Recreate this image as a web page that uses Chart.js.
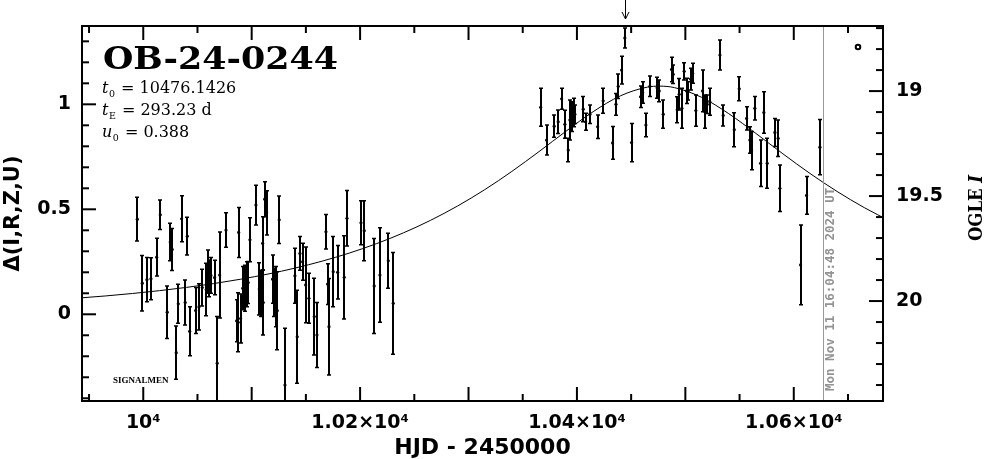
<!DOCTYPE html>
<html><head><meta charset="utf-8">
<script src="https://cdn.jsdelivr.net/npm/chart.js@4.4.1/dist/chart.umd.min.js"></script>
<style>html,body{margin:0;padding:0;background:#fff;}canvas{display:block;}</style>
</head><body>
<canvas id="c" width="986" height="459"></canvas>
<script>
// ---------- data ----------
const hjd = [9994.5,9999.1,10003.4,10007.1,10012.4,10015.7,10022.1,10024.9,10026.7,10030.4,10032.3,10035.4,10038.7,10040.6,10042.8,10048.3,10051.4,10054.4,10058.1,10059.4,10060.9,10062.4,10065.8,10068.2,10070.5,10076.3,10086.1,10087.6,10088.0,10089.8,10091.7,10093.8,10095.4,10096.8,10098.4,10103.9,10107.0,10108.3,10110.1,10110.7,10112.0,10113.8,10119.3,10120.8,10122.4,10123.6,10125.4,10130.7,10139.9,10142.0,10144.5,10147.0,10149.8,10152.8,10157.7,10160.2,10168.5,10170.0,10171.3,10175.2,10179.3,10185.4,10187.9,10200.8,10203.8,10213.0,10218.3,10226.0,10230.6,
10366.5,10372.0,10379.0,10382.7,10385.9,10388.9,10392.0,10393.5,10395.4,10396.9,10398.1,10405.8,10408.0,10412.0,10419.1,10424.2,10432.9,10436.0,10438.1,10441.2,10444.2,10450.4,10458.7,10460.6,10463.6,10467.3,10474.0,10475.9,10479.6,10487.3,10488.8,10492.5,10494.3,10496.8,10498.9,10501.2,10502.6,10504.8,10506.7,10509.7,10515.9,10518.0,10520.2,10522.6,10531.9,10534.9,10545.1,10549.7,10556.5,10559.5,10561.1,10564.1,10569.4,10572.4,10575.5,10582.6,10585.6,10587.2,10606.3,10611.8,10624.1];
const delta = [0.453,0.148,0.165,0.169,0.272,0.474,0.010,0.344,0.309,-0.183,0.050,0.455,0.056,0.372,-0.081,0.018,0.035,0.127,0.118,0.203,0.171,0.185,0.175,-0.233,0.187,0.401,-0.031,-0.038,0.390,-0.020,0.124,0.124,0.143,0.151,0.355,0.520,0.121,0.100,0.338,0.056,0.548,0.483,0.167,0.104,0.084,0.017,0.450,-0.337,0.183,-0.107,0.290,0.250,0.140,0.076,-0.011,-0.099,0.393,0.144,-0.059,0.203,0.200,0.176,0.457,0.436,0.398,0.135,0.187,0.255,0.052,
0.986,0.830,0.896,0.917,1.026,0.905,0.782,0.925,0.941,0.961,0.953,0.977,0.917,0.953,0.893,1.017,0.816,1.000,1.086,1.163,1.316,0.818,1.036,1.056,0.901,1.086,1.079,1.064,0.953,1.166,1.143,0.974,1.048,0.981,1.157,1.064,1.064,1.120,1.148,0.970,1.064,0.965,1.000,1.012,1.235,0.947,0.879,1.074,0.933,0.830,0.779,0.981,0.719,0.961,0.719,0.866,0.838,0.600,0.235,0.566,0.796];
const errs = [0.104,0.132,0.105,0.100,0.090,0.070,0.125,0.089,0.100,0.127,0.093,0.109,0.107,0.090,0.117,0.109,0.110,0.087,0.125,0.103,0.087,0.085,0.082,0.222,0.205,0.082,0.100,0.140,0.119,0.117,0.103,0.110,0.107,0.100,0.105,0.095,0.125,0.110,0.127,0.155,0.083,0.105,0.115,0.115,0.143,0.186,0.113,0.271,0.131,0.222,0.080,0.088,0.180,0.119,0.183,0.155,0.082,0.097,0.230,0.167,0.127,0.198,0.132,0.105,0.143,0.226,0.225,0.131,0.242,
0.090,0.071,0.053,0.056,0.050,0.067,0.056,0.095,0.071,0.068,0.044,0.060,0.040,0.044,0.056,0.060,0.078,0.052,0.058,0.066,0.048,0.091,0.051,0.051,0.056,0.049,0.050,0.052,0.067,0.058,0.044,0.062,0.075,0.095,0.041,0.060,0.044,0.052,0.048,0.074,0.099,0.079,0.044,0.064,0.071,0.050,0.081,0.057,0.055,0.063,0.091,0.056,0.111,0.099,0.119,0.067,0.087,0.111,0.190,0.090,0.132];
// model light curve (t0 = 10476.1426, tE = 293.23 d, u0 = 0.388)
const modelDays  = [9940,9965,9990,10015,10040,10065,10090,10115,10140,10165,10190,10215,10240,10265,10290,10315,10340,10365,10390,10415,10440,10465,10476.14,10490,10515,10540,10565,10590,10615,10640,10665,10690];
const modelDelta = [0.0772,0.0873,0.0990,0.1125,0.1281,0.1462,0.1672,0.1916,0.2200,0.2531,0.2915,0.3361,0.3879,0.4475,0.5160,0.5937,0.6805,0.7747,0.8722,0.9650,1.0401,1.0820,1.0867,1.0795,1.0333,0.9555,0.8617,0.7642,0.6706,0.5848,0.5081,0.4407];
// axis tick labels
const xTickValues = [10000,10200,10400,10600];
const xTickLabels = ['10\u2074','1.02\u00d710\u2074','1.04\u00d710\u2074','1.06\u00d710\u2074'];
const yLeftTickValues = [0,0.5,1];
const yLeftTickLabels = ['0','0.5','1'];
const yRightTickValues = [19,19.5,20];
const yRightTickLabels = ['19','19.5','20'];
// texts
const eventName = 'OB-24-0244';
const params = [['t','0',' = 10476.1426'],['t','E',' = 293.23 d'],['u','0',' = 0.388']];
const nowDay = 10627.1;
const nowLabel = 'Mon Nov 11 16:04:48 2024 UT';
const arrowDay = 10444.2;
const I_ZERO = 20.063;  // OGLE I = I_ZERO - Δ

// ---------- chart ----------
const X_MIN = 9943.5, X_MAX = 10682.3, Y_MIN = -0.413, Y_MAX = 1.373;
const points = hjd.map((d,i)=>({x:d, y:delta[i], e:errs[i]}));
const curve = modelDays.map((d,i)=>({x:d, y:modelDelta[i]}));
const near = (v,m)=>Math.abs(v/m-Math.round(v/m))<1e-6;
const labelFor = (vals,labs)=>(v)=>{ for(let i=0;i<vals.length;i++){ if(Math.abs(v-vals[i])<1e-6) return labs[i]; } return ''; };
const TICKFONT = {family:'"DejaVu Sans"', weight:'bold', size:19};

function fitText(ctx, txt, x, y, width){
  const w = ctx.measureText(txt).width;
  ctx.save(); ctx.translate(x,y); ctx.scale(width/w,1); ctx.fillText(txt,0,0); ctx.restore();
}

const decor = {
  id:'decor',
  afterDatasetsDraw(chart){
    const {ctx, chartArea:a} = chart; const xs=chart.scales.x, ys=chart.scales.y;
    ctx.save();
    ctx.beginPath(); ctx.rect(a.left,a.top,a.right-a.left,a.bottom-a.top); ctx.clip();
    ctx.strokeStyle='#000';
    points.forEach(p=>{
      const px=Math.round(xs.getPixelForValue(p.x));
      const y1=ys.getPixelForValue(p.y+p.e), y2=ys.getPixelForValue(p.y-p.e);
      ctx.lineWidth=2; ctx.beginPath(); ctx.moveTo(px,y1); ctx.lineTo(px,y2); ctx.stroke();
      ctx.lineWidth=1.5; ctx.beginPath(); ctx.moveTo(px-2,y1); ctx.lineTo(px+2,y1); ctx.moveTo(px-2,y2); ctx.lineTo(px+2,y2); ctx.stroke();
    });
    ctx.restore();
  },
  afterDraw(chart){
    const {ctx, chartArea:a} = chart; const xs=chart.scales.x, ys=chart.scales.y, y2=chart.scales.y2;
    ctx.save();
    // now line
    const xn=Math.round(xs.getPixelForValue(nowDay))+0.5;
    ctx.strokeStyle='#999'; ctx.lineWidth=1;
    ctx.beginPath(); ctx.moveTo(xn,a.top); ctx.lineTo(xn,a.bottom); ctx.stroke();
    ctx.save(); ctx.translate(xn+7,a.bottom-10); ctx.rotate(-Math.PI/2);
    ctx.font='bold 12.5px "DejaVu Sans Mono"'; ctx.fillStyle='#939393'; ctx.textAlign='left'; ctx.textBaseline='middle';
    ctx.fillText(nowLabel,0,0); ctx.restore();
    // frame
    ctx.strokeStyle='#000'; ctx.lineWidth=2;
    ctx.strokeRect(a.left,a.top,a.right-a.left,a.bottom-a.top);
    const seg=(x1,y1,x2,y2)=>{ctx.beginPath();ctx.moveTo(x1,y1);ctx.lineTo(x2,y2);ctx.stroke();};
    xs.ticks.forEach(t=>{ const px=xs.getPixelForValue(t.value); const L=near(t.value,100)?14:7; seg(px,a.bottom,px,a.bottom-L); seg(px,a.top,px,a.top+L); });
    ys.ticks.forEach(t=>{ const py=ys.getPixelForValue(t.value); const L=near(t.value,0.5)?14:7; seg(a.left,py,a.left+L,py); });
    y2.ticks.forEach(t=>{ const py=y2.getPixelForValue(t.value); const L=near(t.value,0.5)?14:7; seg(a.right,py,a.right-L,py); });
    // arrow
    const xa=Math.round(xs.getPixelForValue(arrowDay))+0.5;
    ctx.lineWidth=1;
    seg(xa,0,xa,a.top-7); ctx.beginPath(); ctx.moveTo(xa-3.5,a.top-14); ctx.lineTo(xa,a.top-7); ctx.lineTo(xa+3.5,a.top-14); ctx.stroke();
    // small circle symbol
    ctx.lineWidth=2; ctx.beginPath(); ctx.arc(858,47,2.3,0,Math.PI*2); ctx.stroke();
    // title & params
    ctx.fillStyle='#000'; ctx.textAlign='left'; ctx.textBaseline='alphabetic';
    ctx.font='bold 31px "DejaVu Serif"'; fitText(ctx,eventName,103,68.5,235);
    params.forEach((p,i)=>{
      const x=102, y=93+i*22;
      ctx.font='italic 16px "DejaVu Serif"'; ctx.fillText(p[0],x,y); let w=ctx.measureText(p[0]).width;
      ctx.font='9.5px "DejaVu Serif"'; ctx.fillText(p[1],x+w+0.5,y+3.5); w+=ctx.measureText(p[1]).width+1.5;
      ctx.font='16px "DejaVu Serif"'; ctx.fillText(p[2],x+w,y);
    });
    ctx.font='bold 9px "Liberation Serif"'; ctx.fillText('SIGNALMEN',113,383);
    // right axis title (reads upward)
    ctx.save(); ctx.translate(977,208); ctx.rotate(-Math.PI/2); ctx.textBaseline='middle';
    const f1='bold 19px "DejaVu Serif"', f2='bold italic 19px "DejaVu Serif"';
    ctx.font=f1; const w1=ctx.measureText('OGLE ').width; ctx.font=f2; const w2=ctx.measureText('I').width;
    const k=66/(w1+w2); ctx.scale(k,1);
    ctx.font=f1; ctx.fillText('OGLE ',-(w1+w2)/2,0); ctx.font=f2; ctx.fillText('I',-(w1+w2)/2+w1,0);
    ctx.restore();
    ctx.restore();
  }
};

new Chart(document.getElementById('c'), {
  type:'scatter',
  data:{datasets:[
    {type:'line', data:curve, borderColor:'#000', borderWidth:1, pointRadius:0, cubicInterpolationMode:'monotone', fill:false, order:2},
    {type:'scatter', data:points, backgroundColor:'#000', borderColor:'#000', borderWidth:0, pointRadius:1.6, order:1}
  ]},
  options:{
    responsive:false, animation:false, devicePixelRatio:1,
    layout:{padding:{top:26,left:0,right:0,bottom:0}},
    plugins:{legend:{display:false}, tooltip:{enabled:false}},
    scales:{
      x:{type:'linear', position:'bottom', min:X_MIN, max:X_MAX,
        grid:{display:false, drawTicks:false}, border:{display:false},
        ticks:{stepSize:50, includeBounds:false, autoSkip:false, maxRotation:0, padding:11, color:'#000', font:TICKFONT, callback:labelFor(xTickValues,xTickLabels)},
        title:{display:true, text:'HJD - 2450000', color:'#000', font:{family:'"DejaVu Sans"', weight:'bold', size:22, lineHeight:1}, padding:{top:0,bottom:0}},
        afterFit:(s)=>{s.height=58;}},
      y:{type:'linear', position:'left', min:Y_MIN, max:Y_MAX,
        grid:{display:false, drawTicks:false}, border:{display:false},
        ticks:{stepSize:0.1, includeBounds:false, autoSkip:false, padding:11, color:'#000', font:TICKFONT, callback:labelFor(yLeftTickValues,yLeftTickLabels)},
        title:{display:true, text:'\u0394(I,R,Z,U)', color:'#000', font:{family:'"DejaVu Sans"', weight:'bold', size:21}, padding:{top:1,bottom:0}},
        afterFit:(s)=>{s.width=82;}},
      y2:{type:'linear', position:'right', reverse:true, min:I_ZERO-Y_MAX, max:I_ZERO-Y_MIN,
        grid:{display:false, drawTicks:false}, border:{display:false},
        ticks:{stepSize:0.1, includeBounds:false, autoSkip:false, padding:13, color:'#000', font:TICKFONT, callback:labelFor(yRightTickValues,yRightTickLabels)},
        afterFit:(s)=>{s.width=103;}}
    }
  },
  plugins:[decor]
});
</script>
</body></html>
